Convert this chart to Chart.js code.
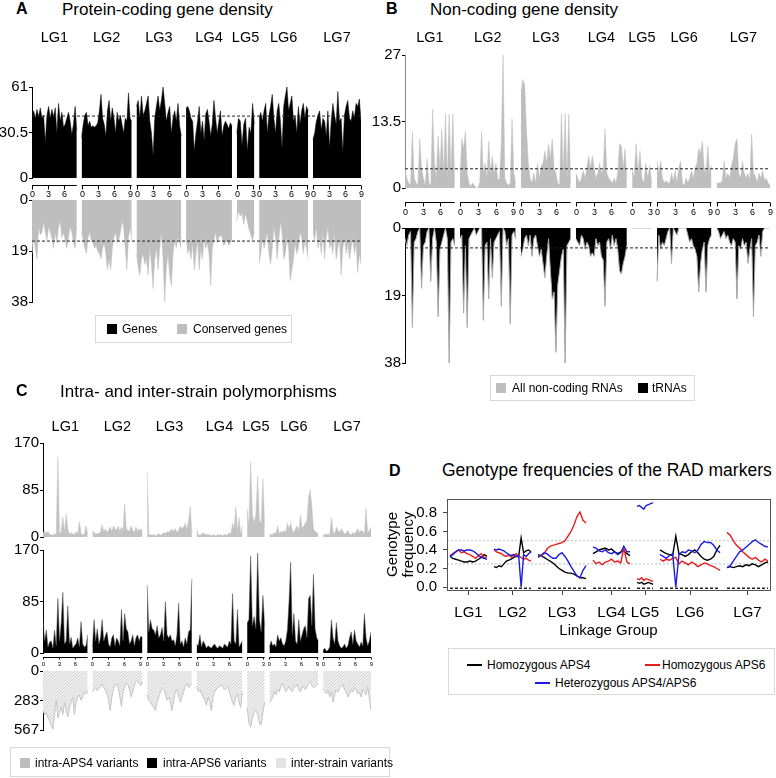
<!DOCTYPE html>
<html>
<head>
<meta charset="utf-8">
<script src="https://cdn.jsdelivr.net/npm/chart.js@4.4.1/dist/chart.umd.min.js"></script>
<style>
  body { margin: 0; background: #fff; }
  #page { position: relative; width: 776px; height: 778px; overflow: hidden; }
  #page canvas { position: absolute; }
  .t { position: absolute; white-space: nowrap; color: #000; }
  .box { position: absolute; border: 1px solid #d8d8d8; box-sizing: border-box; }
  .sq { position: absolute; width: 10px; height: 10px; }
  .ln { position: absolute; width: 15px; height: 2px; }
</style>
</head>
<body>
<div id="page"></div>
<script>
const FONT = '"Liberation Sans", Arial, Helvetica, sans-serif';
Chart.defaults.font.family = FONT;
Chart.defaults.color = '#000';

// ---------- data ----------
const lgNames = ['LG1', 'LG2', 'LG3', 'LG4', 'LG5', 'LG6', 'LG7'];
const lgLength = [8.4, 9.4, 8.4, 8.6, 3.3, 9.2, 9.0];   // Mb
const miniTicks = [0, 3, 6, 9];

// A: protein-coding gene density (genes / window)
const geneDensity = [
  [38, 45, 40, 46, 41, 47, 40, 42, 24, 42, 48, 40, 46, 41, 47, 30, 50, 38, 44, 34, 36, 40, 44, 38, 29, 36, 48, 32],
  [27, 36, 42, 44, 35, 38, 34, 35, 34, 35, 37, 45, 56, 40, 36, 28, 45, 52, 38, 47, 40, 30, 44, 38, 42, 36, 30, 40, 38, 57, 40, 38],
  [48, 52, 40, 55, 42, 45, 50, 55, 38, 30, 15, 40, 48, 55, 45, 52, 61, 50, 38, 44, 48, 30, 40, 45, 38, 50, 35, 28],
  [47, 48, 45, 40, 38, 18, 30, 38, 48, 30, 38, 25, 43, 46, 38, 28, 36, 52, 40, 30, 38, 45, 28, 35, 38, 36, 33, 37, 35],
  [30, 40, 38, 22, 36, 40, 18, 34, 30, 50, 36],
  [40, 44, 38, 45, 50, 30, 42, 48, 56, 40, 30, 45, 50, 38, 20, 48, 55, 61, 45, 50, 55, 38, 42, 30, 48, 36, 45, 50, 40, 48, 45],
  [26, 30, 38, 42, 45, 32, 40, 38, 28, 45, 20, 38, 50, 42, 36, 58, 38, 40, 17, 42, 48, 52, 40, 38, 45, 40, 50, 48, 53, 38]
];
const conservedDensity = [
  [20, 14, 18, 22, 10, 13, 12, 8, 12, 15, 10, 12, 14, 18, 12, 16, 10, 8, 14, 12, 15, 18, 14, 10, 12, 16, 18, 10],
  [12, 15, 18, 20, 14, 12, 15, 16, 18, 17, 19, 20, 22, 18, 16, 20, 26, 22, 26, 18, 14, 12, 16, 15, 12, 8, 10, 18, 26, 14, 10, 15],
  [20, 25, 28, 22, 20, 24, 22, 28, 18, 24, 33, 22, 18, 26, 18, 12, 22, 38, 25, 20, 28, 32, 20, 15, 18, 14, 16, 18],
  [14, 20, 18, 22, 16, 26, 20, 15, 26, 18, 22, 14, 18, 16, 20, 32, 18, 15, 12, 16, 14, 13, 14, 17, 16, 15, 17, 16, 15],
  [8, 4, 6, 5, 9, 5, 8, 11, 13, 15, 12],
  [24, 20, 14, 18, 15, 12, 20, 24, 18, 10, 14, 22, 15, 8, 12, 22, 20, 14, 18, 30, 26, 22, 16, 20, 18, 12, 14, 20, 15, 18, 22],
  [12, 15, 10, 18, 14, 20, 12, 22, 14, 10, 18, 16, 20, 12, 22, 18, 14, 28, 18, 14, 20, 16, 22, 18, 14, 20, 16, 27, 20, 24]
];
const geneMean = 41.5, conservedMean = 15.3;
const geneTicks = [0, 30.5, 61], conservedTicks = [0, 19, 38];

// B: non-coding gene density
const ncRNADensity = [
  [4, 2, 1, 0.5, 11.5, 2, 1, 0.5, 10, 4, 2, 0.5, 6, 1, 0.5, 16, 5, 2, 10.5, 4, 12, 3, 15, 2, 15, 3, 15, 1],
  [2, 10, 8, 11.5, 3, 1, 0.3, 1, 0.5, 0, 0, 1, 11.5, 3, 5, 2, 9.5, 3, 6.5, 3, 5, 2, 1.5, 9, 27, 2, 1, 0.5, 1, 14, 3, 1],
  [19.5, 22, 21, 12, 5, 2, 1, 3, 1, 5, 2, 4.5, 5, 7.5, 5, 9, 6, 10, 4, 3, 1, 0.5, 15, 3, 15, 2, 15, 1],
  [3, 2, 1, 2, 3.5, 2, 4, 6.5, 4, 6.5, 4, 2, 3, 5, 3, 4, 12, 3, 2, 1.5, 1, 2, 1, 3, 9, 8.5, 4, 8, 2],
  [4, 2, 9, 3, 7.5, 2, 1, 5, 2, 4.5, 1],
  [5.5, 3, 5.5, 2, 1, 1.5, 1, 1, 3, 1.5, 3.5, 1, 4, 5.5, 1, 0.5, 2, 1, 2, 3.5, 2, 4, 5, 8, 7, 9.5, 4, 3, 8.5, 3, 4.5],
  [1, 1, 1, 1.5, 5.5, 2, 3, 2, 4.5, 6, 9, 10, 3, 2, 5.5, 3, 2, 3, 1.5, 11, 3, 2.5, 1, 3, 2, 3.5, 1.5, 2, 1, 0.5]
];
const tRNADensity = [
  [3, 5, 2, 1, 28, 4, 3, 1, 0, 17, 5, 4, 1, 0, 15, 3, 0, 4, 25, 6, 4, 2, 0, 3, 38, 4, 3, 5],
  [3, 2, 24, 5, 28, 3, 2, 1, 0, 2, 1, 0, 0, 26, 5, 4, 20, 3, 14, 4, 3, 2, 1, 22, 0, 1, 5, 3, 27, 2, 1, 3],
  [8, 6, 3, 2, 5, 2, 8, 3, 2, 5, 8, 6, 10, 14, 8, 3, 12, 20, 18, 35, 16, 12, 8, 6, 38, 5, 4, 3],
  [3, 4, 5, 2, 3, 6, 4, 5, 8, 7, 8, 3, 5, 4, 8, 9, 22, 4, 3, 6, 2, 5, 3, 6, 12, 13, 10, 8, 5],
  [0, 0, 0, 0, 0, 0, 0, 0, 0, 0, 0],
  [15, 2, 6, 4, 5, 3, 1, 0, 10, 0, 1, 2, 0, 0, 0, 0, 0, 2, 4, 3, 5, 6, 8, 18, 10, 6, 4, 18, 5, 3, 2],
  [0, 1, 3, 2, 1, 3, 2, 4, 5, 3, 4, 20, 5, 6, 3, 5, 4, 10, 6, 3, 25, 5, 4, 2, 8, 1, 0, 0, 0, 0]
];
const ncMean = 3.9, tRNAMean = 5.6;
const ncTicks = [0, 13.5, 27], tRNATicks = [0, 19, 38];

// C: polymorphisms
const intraAPS4 = [
  [8, 10, 7, 10, 5, 4, 3, 6, 4, 145, 5, 10, 36, 8, 42, 15, 5, 8, 6, 4, 10, 5, 28, 6, 4, 5, 20, 6],
  [12, 8, 5, 7, 6, 10, 22, 10, 15, 8, 12, 18, 10, 20, 15, 12, 20, 10, 18, 12, 60, 15, 12, 10, 20, 12, 8, 18, 10, 15, 12, 14],
  [118, 5, 4, 3, 5, 2, 4, 6, 3, 5, 8, 6, 10, 8, 12, 14, 10, 15, 8, 12, 20, 15, 18, 25, 12, 30, 56, 10],
  [15, 4, 3, 5, 8, 4, 6, 3, 5, 2, 4, 3, 2, 5, 3, 4, 2, 5, 3, 4, 8, 5, 25, 15, 55, 10, 35, 5, 20],
  [52, 20, 135, 40, 25, 42, 110, 30, 25, 105, 20],
  [3, 5, 4, 8, 6, 20, 6, 10, 8, 12, 8, 25, 15, 25, 12, 8, 15, 20, 10, 40, 15, 20, 25, 30, 72, 85, 55, 15, 10, 8, 4],
  [3, 5, 4, 6, 3, 35, 10, 5, 18, 12, 8, 15, 10, 5, 8, 12, 6, 4, 8, 5, 10, 15, 8, 12, 10, 5, 52, 8, 12, 18]
];
const intraAPS6 = [
  [55, 20, 38, 10, 18, 20, 8, 38, 12, 90, 20, 50, 100, 15, 20, 78, 15, 26, 8, 12, 15, 25, 10, 52, 15, 10, 12, 30],
  [10, 55, 20, 40, 15, 25, 55, 20, 28, 35, 15, 10, 25, 30, 12, 25, 20, 12, 72, 20, 65, 40, 35, 15, 20, 30, 12, 25, 30, 20, 28, 25],
  [112, 35, 55, 40, 38, 30, 45, 25, 30, 42, 20, 85, 30, 25, 30, 20, 22, 12, 30, 82, 15, 20, 10, 25, 15, 35, 38, 122],
  [15, 12, 30, 10, 20, 15, 8, 12, 10, 8, 12, 15, 10, 8, 12, 10, 8, 15, 12, 10, 20, 15, 98, 20, 15, 72, 10, 15, 20],
  [50, 55, 160, 45, 60, 40, 165, 55, 35, 95, 45],
  [10, 20, 12, 15, 10, 30, 20, 25, 15, 12, 20, 38, 85, 150, 30, 65, 20, 15, 55, 20, 30, 40, 45, 25, 90, 95, 45, 130, 40, 25, 20],
  [5, 8, 3, 5, 10, 55, 25, 15, 50, 20, 12, 8, 10, 15, 8, 12, 25, 35, 15, 38, 20, 15, 10, 18, 12, 65, 25, 12, 20, 35]
];
const interStrain = [
  [380, 420, 400, 450, 480, 520, 560, 420, 280, 450, 400, 350, 420, 300, 380, 440, 350, 300, 250, 420, 300, 250, 230, 280, 250, 200, 220, 190],
  [200, 180, 160, 190, 170, 150, 130, 160, 180, 220, 280, 380, 250, 180, 140, 120, 160, 250, 340, 200, 150, 120, 130, 180, 250, 200, 140, 100, 90, 120, 140, 100],
  [230, 280, 300, 330, 350, 380, 300, 250, 200, 160, 180, 220, 280, 250, 300, 380, 280, 200, 180, 240, 300, 260, 200, 150, 120, 160, 140, 120],
  [150, 200, 180, 220, 250, 280, 330, 250, 300, 380, 250, 200, 180, 160, 150, 130, 150, 180, 170, 150, 200, 250, 300, 330, 250, 220, 300, 350, 200],
  [350, 500, 540, 450, 400, 380, 420, 500, 520, 400, 300],
  [300, 280, 250, 200, 230, 180, 200, 150, 120, 160, 200, 180, 150, 180, 200, 160, 150, 130, 180, 200, 160, 150, 180, 150, 120, 100, 140, 160, 150, 130, 120],
  [180, 200, 220, 180, 250, 200, 300, 220, 180, 200, 160, 150, 130, 180, 200, 250, 220, 180, 200, 160, 180, 220, 200, 250, 180, 200, 230, 150, 260, 380]
];
const variantTicks = [0, 85, 170], interTicks = [0, 283, 567];

// D: genotype frequencies along the RAD markers
const markerSpan = [37, 37, 48, 37, 16, 60, 41];
const homAPS4 = [
  [0.33, 0.31, 0.30, 0.29, 0.28, 0.27, 0.27, 0.28, 0.27, 0.28, 0.30, 0.32, 0.35, 0.33],
  [0.22, 0.21, 0.23, 0.22, 0.25, 0.28, 0.29, 0.30, 0.32, 0.33, 0.33, 0.53, 0.37, 0.39, 0.40, 0.38],
  [0.35, 0.34, 0.32, 0.30, 0.28, 0.26, 0.23, 0.20, 0.18, 0.16, 0.15, 0.15, 0.14, 0.12, 0.10, 0.10, 0.09],
  [0.36, 0.38, 0.40, 0.41, 0.42, 0.40, 0.41, 0.38, 0.36, 0.38, 0.39, 0.36, 0.34],
  [0.05, 0.04, 0.05, 0.03, 0.04, 0.05, 0.04, 0.03],
  [0.40, 0.38, 0.36, 0.35, 0.34, 0.55, 0.36, 0.35, 0.33, 0.35, 0.38, 0.40, 0.37, 0.33, 0.30, 0.29, 0.30, 0.33, 0.40, 0.45],
  [0.21, 0.22, 0.21, 0.22, 0.23, 0.22, 0.24, 0.23, 0.25, 0.24, 0.22, 0.24, 0.26, 0.27]
];
const homAPS6 = [
  [0.34, 0.36, 0.38, 0.40, 0.37, 0.38, 0.36, 0.35, 0.33, 0.31, 0.34, 0.36, 0.31, 0.33],
  [0.40, 0.38, 0.37, 0.36, 0.34, 0.33, 0.35, 0.32, 0.34, 0.36, 0.33, 0.32, 0.30, 0.31, 0.29, 0.28],
  [0.33, 0.34, 0.36, 0.41, 0.44, 0.45, 0.46, 0.47, 0.48, 0.50, 0.55, 0.60, 0.67, 0.76, 0.81, 0.72, 0.69],
  [0.29, 0.25, 0.27, 0.24, 0.27, 0.28, 0.30, 0.27, 0.28, 0.26, 0.42, 0.27, 0.25],
  [0.09, 0.08, 0.10, 0.07, 0.09, 0.08, 0.07, 0.06],
  [0.30, 0.28, 0.30, 0.29, 0.31, 0.32, 0.25, 0.28, 0.26, 0.24, 0.27, 0.25, 0.22, 0.24, 0.26, 0.25, 0.23, 0.22, 0.20, 0.18],
  [0.59, 0.56, 0.50, 0.45, 0.42, 0.38, 0.35, 0.32, 0.30, 0.32, 0.29, 0.27, 0.30, 0.28]
];
const hetAPS4APS6 = [
  [0.33, 0.35, 0.38, 0.40, 0.40, 0.39, 0.40, 0.40, 0.39, 0.37, 0.34, 0.32, 0.31, 0.30],
  [0.41, 0.40, 0.41, 0.40, 0.39, 0.37, 0.35, 0.34, 0.35, 0.33, 0.34, 0.00, 0.35, 0.33, 0.36, 0.38],
  [0.32, 0.34, 0.37, 0.36, 0.33, 0.31, 0.31, 0.35, 0.37, 0.33, 0.28, 0.22, 0.17, 0.12, 0.10, 0.18, 0.23],
  [0.43, 0.42, 0.39, 0.38, 0.40, 0.37, 0.36, 0.38, 0.35, 0.37, 0.44, 0.38, 0.38],
  [0.87, 0.88, 0.86, 0.84, 0.88, 0.89, 0.90, 0.91],
  [0.35, 0.33, 0.31, 0.34, 0.36, 0.00, 0.35, 0.38, 0.37, 0.40, 0.39, 0.37, 0.40, 0.46, 0.49, 0.48, 0.48, 0.45, 0.40, 0.37],
  [0.21, 0.23, 0.28, 0.33, 0.38, 0.40, 0.43, 0.46, 0.49, 0.51, 0.48, 0.46, 0.44, 0.43]
];
const freqTicks = [0, 0.2, 0.4, 0.6, 0.8];
const freqGuides = [0.25, 0.5];

// ---------- layout helpers ----------
const page = document.getElementById('page');
const lgGap = 0.9;
const lgStart = [];
let acc = 0;
lgLength.forEach(l => { lgStart.push(acc); acc += l + lgGap; });
const genomeEnd = acc - lgGap;

const markerGap = 7;
const dStart = [];
acc = 0;
markerSpan.forEach(n => { dStart.push(acc); acc += n + markerGap; });
const dEnd = acc - markerGap;

function makeCanvas(left, top, w, h) {
  const c = document.createElement('canvas');
  c.width = w; c.height = h;
  c.style.left = left + 'px'; c.style.top = top + 'px';
  c.style.width = w + 'px'; c.style.height = h + 'px';
  page.appendChild(c);
  return c;
}

function text(str, x, base, size, bold) {
  const d = document.createElement('div');
  d.className = 't';
  d.textContent = str;
  d.style.font = (bold ? 'bold ' : '') + size + 'px ' + FONT;
  d.style.lineHeight = size + 'px';
  d.style.left = x + 'px';
  d.style.top = (base - 0.8465 * size) + 'px';
  page.appendChild(d);
}

function box(x, y, w, h) {
  const d = document.createElement('div');
  d.className = 'box';
  Object.assign(d.style, { left: x + 'px', top: y + 'px', width: w + 'px', height: h + 'px' });
  page.appendChild(d);
}

function swatch(x, y, color, cls) {
  const d = document.createElement('div');
  d.className = cls || 'sq';
  Object.assign(d.style, { left: x + 'px', top: y + 'px', background: color });
  page.appendChild(d);
}

function hatch() {
  const p = document.createElement('canvas');
  p.width = 3; p.height = 3;
  const g = p.getContext('2d');
  g.fillStyle = '#eeeeee'; g.fillRect(0, 0, 3, 3);
  g.strokeStyle = '#d6d6d6'; g.lineWidth = 1;
  g.beginPath(); g.moveTo(0, 3); g.lineTo(3, 0); g.stroke();
  return g.createPattern(p, 'repeat');
}

// LG names above a strip
function lgLabelPlugin(dy) {
  return {
    id: 'lgLabels',
    afterDraw(chart) {
      const { ctx, chartArea } = chart, x = chart.scales.x;
      ctx.save();
      ctx.font = '14.5px ' + FONT; ctx.fillStyle = '#000'; ctx.textAlign = 'center'; ctx.textBaseline = 'alphabetic';
      lgNames.forEach((n, i) => ctx.fillText(n, x.getPixelForValue(lgStart[i] + lgLength[i] / 2), chartArea.top + dy));
      ctx.restore();
    }
  };
}

// little Mb axis under each linkage group
function miniAxisPlugin(dy, size, tick, gap) {
  return {
    id: 'miniAxis',
    afterDraw(chart) {
      const { ctx, chartArea } = chart, x = chart.scales.x;
      const y = Math.round(chartArea.bottom + dy) + 0.5;
      ctx.save();
      ctx.strokeStyle = '#000'; ctx.fillStyle = '#000'; ctx.lineWidth = 1;
      ctx.font = size + 'px ' + FONT; ctx.textAlign = 'center'; ctx.textBaseline = 'top';
      lgLength.forEach((len, i) => {
        ctx.beginPath();
        ctx.moveTo(x.getPixelForValue(lgStart[i]), y);
        ctx.lineTo(x.getPixelForValue(lgStart[i] + len), y);
        ctx.stroke();
        miniTicks.filter(t => t <= len + 0.01).forEach(t => {
          const px = Math.round(x.getPixelForValue(lgStart[i] + t)) + 0.5;
          ctx.beginPath(); ctx.moveTo(px, y); ctx.lineTo(px, y + tick); ctx.stroke();
          ctx.fillText(String(t), px, y + gap);
        });
      });
      ctx.restore();
    }
  };
}

// one density strip = one chart, one filled dataset per linkage group
function strip(o) {
  const W = o.axisW, padT = o.padT, padB = o.padB, padR = 6;
  const left = o.x0 - W, top = o.y0 - padT;
  const canvas = makeCanvas(left, top, o.x1 - left + padR, o.y1 - o.y0 + padT + padB);
  const datasets = o.series.map((vals, i) => ({
    data: vals.map((v, j) => ({ x: lgStart[i] + j * lgLength[i] / (vals.length - 1), y: v })),
    backgroundColor: o.fill,
    borderColor: o.line,
    borderWidth: o.lineWidth,
    fill: 'origin',
    pointRadius: 0,
    tension: 0
  }));
  if (o.mean != null) {
    datasets.unshift({
      data: [{ x: 0, y: o.mean }, { x: genomeEnd, y: o.mean }],
      borderColor: '#222', borderWidth: 1, borderDash: [3, 2], pointRadius: 0, fill: false
    });
  }
  new Chart(canvas, {
    type: 'line',
    data: { datasets },
    options: {
      responsive: false, animation: false, devicePixelRatio: 1,
      layout: { padding: { top: padT, bottom: padB, left: 0, right: padR } },
      plugins: { legend: { display: false }, tooltip: { enabled: false } },
      scales: {
        x: { type: 'linear', display: false, min: 0, max: genomeEnd },
        y: {
          min: 0, max: o.ticks[o.ticks.length - 1], reverse: !!o.reverse,
          afterBuildTicks: s => { s.ticks = o.ticks.map(v => ({ value: v })); },
          afterFit: s => { s.width = W; s.paddingTop = 0; s.paddingBottom = 0; },
          ticks: { font: { size: 15 }, color: '#000', padding: 1, callback: v => String(v) },
          grid: { drawOnChartArea: false, drawTicks: true, tickLength: 3, color: '#000' },
          border: { display: true, color: o.axisColor || '#000' }
        }
      }
    },
    plugins: o.plugins || []
  });
}

// ---------- panel A ----------
text('A', 16, 15, 16, true);
text('Protein-coding gene density', 62, 15, 17);
strip({ x0: 32, x1: 361, y0: 87, y1: 178, axisW: 32, padT: 60, padB: 27,
  series: geneDensity, ticks: geneTicks, mean: geneMean, fill: '#000', line: '#000', lineWidth: 0.5,
  plugins: [lgLabelPlugin(-45), miniAxisPlugin(7, 9, 4, 5)] });
strip({ x0: 32, x1: 361, y0: 200, y1: 302, axisW: 32, padT: 10, padB: 10, reverse: true,
  series: conservedDensity, ticks: conservedTicks, mean: conservedMean, fill: '#bebebe', line: '#bebebe', lineWidth: 0.5 });
box(95, 315, 197, 28);
swatch(107, 324, '#000'); text('Genes', 122, 333, 12);
swatch(177, 324, '#bebebe'); text('Conserved genes', 193, 333, 12);

// ---------- panel B ----------
text('B', 386, 15, 16, true);
text('Non-coding gene density', 430, 15, 17);
strip({ x0: 405, x1: 770, y0: 55, y1: 188, axisW: 35, padT: 25, padB: 32, axisColor: '#888',
  series: ncRNADensity, ticks: ncTicks, mean: ncMean, fill: '#bebebe', line: '#bebebe', lineWidth: 0.5,
  plugins: [lgLabelPlugin(-13), miniAxisPlugin(14, 9, 4, 6)] });
strip({ x0: 405, x1: 770, y0: 228, y1: 363, axisW: 35, padT: 10, padB: 10, reverse: true,
  series: tRNADensity, ticks: tRNATicks, mean: tRNAMean, fill: '#000', line: '#aaa', lineWidth: 1 });
box(490, 375, 205, 26);
swatch(496, 383, '#bebebe'); text('All non-coding RNAs', 512, 392, 12);
swatch(638, 383, '#000'); text('tRNAs', 652, 392, 12);

// ---------- panel C ----------
text('C', 16, 397, 16, true);
text('Intra- and inter-strain polymorphisms', 60, 397, 17);
strip({ x0: 43, x1: 371, y0: 443, y1: 537, axisW: 43, padT: 22, padB: 8,
  series: intraAPS4, ticks: variantTicks, fill: '#c2c2c2', line: '#c2c2c2', lineWidth: 0.5,
  plugins: [lgLabelPlugin(-12)] });
strip({ x0: 43, x1: 371, y0: 550, y1: 653, axisW: 43, padT: 10, padB: 14,
  series: intraAPS6, ticks: variantTicks, fill: '#000', line: '#555', lineWidth: 0.5,
  plugins: [miniAxisPlugin(4, 6, 2, 4)] });
strip({ x0: 43, x1: 371, y0: 671, y1: 730, axisW: 43, padT: 9, padB: 10, reverse: true,
  series: interStrain, ticks: interTicks, fill: hatch(), line: '#c4c4c4', lineWidth: 1 });
box(10, 747, 380, 30);
swatch(20, 758, '#bdbdbd'); text('intra-APS4 variants', 35, 767, 12);
swatch(147, 758, '#000'); text('intra-APS6 variants', 163, 767, 12);
swatch(276, 758, '#e3e3e3'); text('inter-strain variants', 291, 767, 12);

// ---------- panel D ----------
text('D', 389, 477, 16, true);
text('Genotype frequencies of the RAD markers', 442, 477, 17.5);

function genoPoints(series) {
  const pts = [];
  series.forEach((vals, i) => {
    vals.forEach((v, j) => pts.push({ x: dStart[i] + j * markerSpan[i] / (vals.length - 1), y: v }));
    pts.push({ x: dStart[i] + markerSpan[i] + 1, y: null });
  });
  return pts;
}
function rugPoints() {
  const pts = [];
  markerSpan.forEach((n, i) => {
    pts.push({ x: dStart[i], y: -0.012 }, { x: dStart[i] + n, y: -0.012 }, { x: dStart[i] + n + 1, y: null });
  });
  return pts;
}
const lineDs = (series, color, order) => ({
  data: genoPoints(series), borderColor: color, borderWidth: 1.4, pointRadius: 0, fill: false, order
});
const dDatasets = [
  lineDs(hetAPS4APS6, '#1c1ce0', 0),
  lineDs(homAPS6, '#e81c1c', 1),
  lineDs(homAPS4, '#000', 2),
  { data: rugPoints(), borderColor: '#222', borderWidth: 1.5, borderDash: [3, 2], pointRadius: 0, fill: false, order: 3 }
].concat(freqGuides.map(g => ({
  data: [{ x: -3, y: g }, { x: dEnd + 2, y: g }],
  borderColor: '#bbb', borderWidth: 1, borderDash: [2, 2], pointRadius: 0, fill: false, order: 10
})));

const boxPlugin = {
  id: 'frame',
  afterDraw(chart) {
    const a = chart.chartArea, ctx = chart.ctx;
    ctx.save();
    ctx.strokeStyle = '#555'; ctx.lineWidth = 1;
    ctx.strokeRect(Math.round(a.left) + 0.5, Math.round(a.top) + 0.5, Math.round(a.width), Math.round(a.height));
    ctx.restore();
  }
};

const dCanvas = makeCanvas(380, 490, 396, 150);
new Chart(dCanvas, {
  type: 'line',
  data: { datasets: dDatasets },
  options: {
    responsive: false, animation: false, devicePixelRatio: 1,
    layout: { padding: { top: 9, right: 6, left: 0, bottom: 0 } },
    plugins: { legend: { display: false }, tooltip: { enabled: false } },
    scales: {
      x: {
        type: 'linear', min: -3, max: dEnd + 2,
        afterBuildTicks: s => { s.ticks = markerSpan.map((n, i) => ({ value: dStart[i] + n / 2 })); },
        afterFit: s => { s.height = 50; s.paddingLeft = 0; s.paddingRight = 0; },
        ticks: { autoSkip: false, maxRotation: 0, font: { size: 15 }, padding: 9, callback: (v, i) => lgNames[i] },
        grid: { drawOnChartArea: false, drawTicks: true, tickLength: 5, color: '#444' },
        border: { display: false },
        title: { display: true, text: 'Linkage Group', font: { size: 15 }, padding: { top: 0, bottom: 0 } }
      },
      y: {
        min: -0.032, max: 0.95,
        afterBuildTicks: s => { s.ticks = freqTicks.map(v => ({ value: v })); },
        afterFit: s => { s.width = 67; s.paddingTop = 0; s.paddingBottom = 0; },
        ticks: { font: { size: 15 }, padding: 6, callback: v => v.toFixed(1) },
        grid: { drawOnChartArea: false, drawTicks: true, tickLength: 4, color: '#444' },
        border: { display: false },
        title: { display: true, text: ['Genotype', 'frequency'], font: { size: 15, lineHeight: 1.07 }, padding: { top: 5, bottom: 0 } }
      }
    }
  },
  plugins: [boxPlugin]
});

box(448, 648, 327, 47);
swatch(467, 664, '#000', 'ln'); text('Homozygous APS4', 487, 669, 12);
swatch(645, 664, '#e81c1c', 'ln'); text('Homozygous APS6', 662, 669, 12);
swatch(535, 682, '#1c1ce0', 'ln'); text('Heterozygous APS4/APS6', 555, 687, 12);
</script>
</body>
</html>
